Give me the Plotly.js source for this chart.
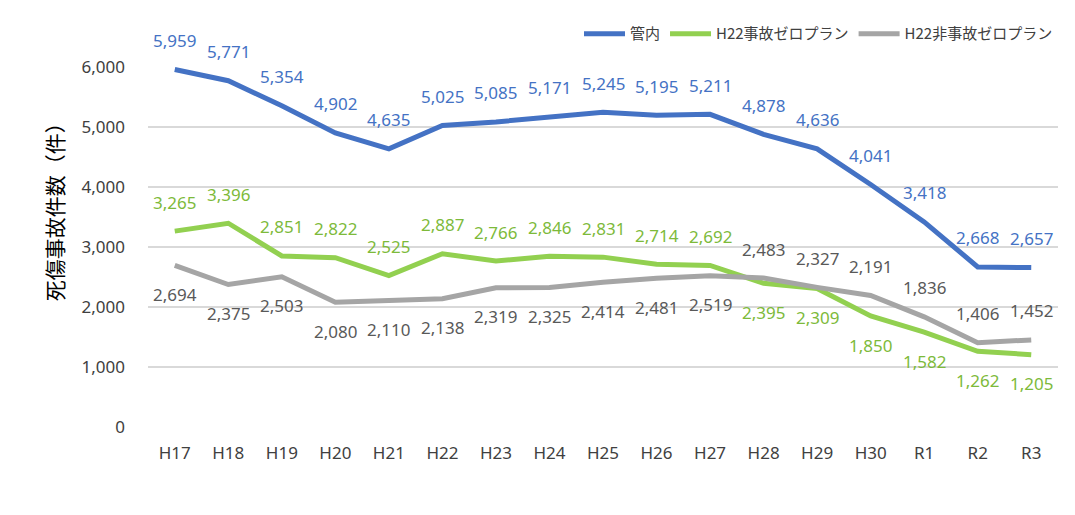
<!DOCTYPE html>
<html>
<head>
<meta charset="utf-8">
<script src="https://cdn.plot.ly/plotly-3.0.1.min.js"></script>
<style>html,body{margin:0;padding:0;background:#fff;}#chart{width:1075px;height:515px;}</style>
</head>
<body>
<div id="chart"></div>
<script>
const categories = ["H17","H18","H19","H20","H21","H22","H23","H24","H25","H26","H27","H28","H29","H30","R1","R2","R3"];
const kannai = [5959,5771,5354,4902,4635,5025,5085,5171,5245,5195,5211,4878,4636,4041,3418,2668,2657];
const zeroPlan = [3265,3396,2851,2822,2525,2887,2766,2846,2831,2714,2692,2395,2309,1850,1582,1262,1205];
const nonZeroPlan = [2694,2375,2503,2080,2110,2138,2319,2325,2414,2481,2519,2483,2327,2191,1836,1406,1452];
const seriesNames = ["管内","H22事故ゼロプラン","H22非事故ゼロプラン"];
const yTitle = "死傷事故件数（件）";

// label placement (style): +1 above, -1 below
const posKannai = categories.map(() => 1);
const posZero = categories.map((c, i) => i <= 10 ? 1 : -1);
const posNonZero = categories.map((c, i) => i <= 10 ? -1 : 1);

const lineColors = ["#4472C4", "#92D050", "#A5A5A5"];
const labelColors = ["#4472C4", "#7DBA3A", "#595959"];
const FONT = "'Noto Sans', 'Noto Sans CJK JP', sans-serif";

const series = [kannai, zeroPlan, nonZeroPlan];
const positions = [posKannai, posZero, posNonZero];

const traces = series.map((vals, k) => ({
  type: "scatter",
  mode: "lines",
  x: categories,
  y: vals,
  name: seriesNames[k],
  line: {color: lineColors[k], width: 5},
  hoverinfo: "skip"
}));

const annotations = [];
series.forEach((vals, k) => {
  vals.forEach((v, i) => {
    annotations.push({
      x: categories[i], y: v, xref: "x", yref: "y",
      text: v.toLocaleString("en-US"),
      showarrow: false,
      yshift: positions[k][i] * 29,
      font: {family: FONT, size: 17, color: labelColors[k]}
    });
  });
});
annotations.push({
  xref: "paper", yref: "paper", x: -0.103, y: 0.611,
  xanchor: "center", yanchor: "middle",
  text: yTitle, textangle: -90, showarrow: false,
  font: {family: "'Noto Sans CJK JP', sans-serif", size: 21, color: "#000"}
});

const layout = {
  width: 1075, height: 515,
  margin: {l: 148, r: 17, t: 67, b: 88},
  paper_bgcolor: "#fff", plot_bgcolor: "#fff",
  font: {family: FONT, size: 17, color: "#404040"},
  showlegend: true,
  legend: {
    orientation: "h", x: 1, xanchor: "right", y: 1.092, yanchor: "middle",
    itemwidth: 41,
    font: {family: "'Noto Sans CJK JP', 'Noto Sans', sans-serif", size: 15, color: "#404040"},
    bgcolor: "rgba(0,0,0,0)"
  },
  xaxis: {
    type: "category", range: [-0.5, 16.5],
    showgrid: false, zeroline: false, showline: false,
    ticks: "", ticklabelstandoff: 14,
    tickfont: {family: FONT, size: 17, color: "#404040"}
  },
  yaxis: {
    range: [0, 6000], tickvals: [0,1000,2000,3000,4000,5000,6000],
    tickformat: ",d",
    showgrid: true, gridcolor: "#D9D9D9", gridwidth: 1.3,
    zeroline: false, showline: false, ticks: "", ticklabelstandoff: 22,
    tickfont: {family: FONT, size: 17, color: "#404040"}
  },
  annotations: annotations
};

Plotly.newPlot("chart", traces, layout, {displayModeBar: false, staticPlot: true});
</script>
</body>
</html>
